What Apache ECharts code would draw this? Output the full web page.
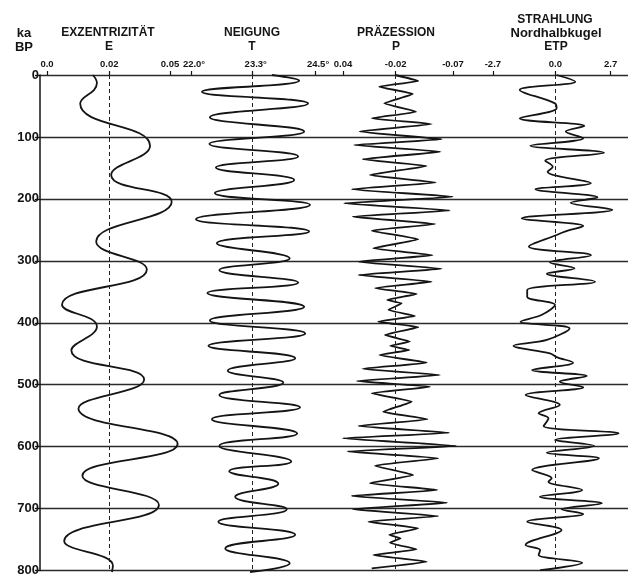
<!DOCTYPE html>
<html><head><meta charset="utf-8">
<script src="https://cdn.jsdelivr.net/npm/echarts@6/dist/echarts.min.js"></script>
<style>html,body{margin:0;padding:0;background:#fff}#c{width:628px;height:577px}</style>
</head><body><div id="c"></div>
<script>
// ---- age axis (ka BP) ----
const ageMin = 0, ageMax = 800, ageStep = 100;

// ---- Exzentrizität E ----
const eTickLabels = ['0.0', '0.02', '0.05'];
const eTickValues = [0.0, 0.0253, 0.05];
const eAge = [0, 13, 46, 114, 161, 204, 268, 313, 370, 405, 443, 490, 537, 594, 645, 692, 750, 790, 800];
const eVal = [0.0186, 0.0203, 0.0135, 0.0419, 0.0261, 0.0507, 0.0200, 0.0406, 0.0061, 0.0203, 0.0099, 0.0395, 0.0128, 0.0531, 0.0144, 0.0455, 0.0070, 0.0268, 0.0264];

// ---- Neigung T ----
const tTickLabels = ['22.0°', '23.3°', '24.5°'];
const tTickValues = [22.0, 23.244, 24.5];
const tAge = [0, 9, 27, 46, 68, 91, 111, 131, 149, 169, 190, 209, 232, 252, 271, 295, 314, 334, 351, 373, 395, 416, 436, 456, 476, 495, 515, 535, 554, 577, 597, 622, 638, 658, 679, 699, 719, 740, 762, 786, 800];
const tVal = [23.63, 24.18, 22.22, 24.36, 22.38, 24.28, 22.37, 24.16, 22.50, 24.08, 22.48, 24.40, 22.10, 24.38, 22.52, 23.99, 22.57, 24.16, 22.33, 24.28, 22.38, 24.30, 22.35, 24.10, 22.74, 23.86, 22.57, 24.20, 22.42, 24.14, 22.57, 24.02, 22.77, 23.76, 22.89, 23.93, 22.55, 24.10, 22.69, 23.99, 23.19];

// ---- Präzession P ----
const pTickLabels = ['0.04', '-0.02', '-0.07'];
const pTickValues = [0.04, -0.0127, -0.07];
const pAge = [0, 9.7, 18.8, 30.6, 45.6, 59, 69.8, 79, 91, 103.5, 112.7, 123.4, 135.7, 146.5, 161, 173, 184, 196, 206.5, 218, 228, 240, 250.6, 264.5, 279, 290, 300.5, 312, 322, 332.7, 343, 352.5, 362, 367.5, 378, 388, 397, 406, 418.5, 429, 436, 442.6, 450.7, 463, 473, 483, 492.5, 501.7, 512.4, 525.8, 542, 554, 565, 575.8, 584.8, 597, 606, 617, 629, 644, 657, 668, 677.7, 688.5, 699, 710, 719, 729.7, 740, 745.8, 752.8, 763.5, 772.6, 783.4, 794];
const pVal = [-0.012, -0.0353, 0.0037, -0.0297, -0.0013, -0.033, 0.0113, -0.0487, 0.0237, -0.0587, 0.029, -0.0577, 0.0203, -0.0437, 0.013, -0.053, 0.0313, -0.0697, 0.039, -0.067, 0.0303, -0.052, 0.0113, -0.0353, 0.0097, -0.0497, 0.0247, -0.0587, 0.0247, -0.0487, 0.008, -0.0337, -0.0043, -0.0187, -0.0053, -0.032, 0.0047, -0.0353, -0.002, -0.027, -0.007, -0.0263, 0.0037, -0.0437, 0.0207, -0.057, 0.0263, -0.047, 0.0113, -0.0287, -0.0003, -0.0443, 0.0247, -0.0663, 0.0403, -0.073, 0.0357, -0.0553, 0.008, -0.0303, 0.013, -0.0543, 0.0313, -0.0643, 0.0303, -0.0553, 0.0147, -0.0353, -0.0063, -0.0177, -0.007, -0.0337, 0.0097, -0.0437, 0.0113];

// ---- Strahlung Nordhalbkugel ETP ----
const xTickLabels = ['-2.7', '0.0', '2.7'];
const xTickValues = [-2.7, 0.1665, 2.7];
const xAge = [0, 10.7, 24, 45.6, 53.6, 69.8, 82, 91, 102, 114, 125, 138, 147.5, 155.6, 174, 184, 197, 205.5, 217, 230.7, 243, 252, 257.5, 276, 290, 302, 311, 320, 332.7, 346, 357, 370, 386, 397, 408, 426.5, 436, 448, 454, 463, 475, 484.5, 493.7, 502.7, 515, 531, 544.6, 552.6, 565, 576.8, 587.5, 597, 608, 617, 636, 649, 654.6, 668, 679, 689.5, 699, 706.6, 719, 732.4, 756.5, 764.6, 772.6, 785, 797];
const xVal = [0.225, 1.08, -1.47, 0.15, 0.225, -1.47, 1.50, 0.64, 1.45, -0.98, 2.40, -0.30, 0.045, -0.19, 1.80, -0.75, 2.10, 0.87, 2.78, -1.38, 1.45, 0.60, 0.225, -1.05, 1.80, -0.08, 1.05, -0.225, 1.99, -1.125, -1.125, 0.15, -0.45, -1.43, 0.82, -0.225, -1.755, -0.08, 0.225, 0.98, -0.90, 1.61, 0.37, 1.45, -1.20, 0.37, -0.60, -0.15, -0.37, 3.07, 0.15, 1.95, -0.225, 2.17, -0.90, 0.0, -0.15, 1.395, -0.55, 2.30, 0.45, 1.45, -1.125, 0.45, -1.20, -0.53, -0.60, 1.395, -0.53];

// ---- build ----
const INK = '#141414';
const FONT = '"Liberation Sans", Arial, sans-serif';
const zip = (ages, vals) => ages.map((a, i) => [vals[i], a]);

const panels = [
  { left: 39.6, width: 147.6, min: -0.003, max: 0.057, inverse: false, ticks: eTickValues, labels: eTickLabels, data: zip(eAge, eVal), smooth: 0.5, pad: 0 },
  { left: 181.1, width: 153.8, min: 21.8, max: 24.9, inverse: false, ticks: tTickValues, labels: tTickLabels, data: zip(tAge, tVal), smooth: 0.5, pad: 6 },
  { left: 333, width: 140, min: -0.09, max: 0.05, inverse: true, ticks: pTickValues, labels: pTickLabels, data: zip(pAge, pVal), smooth: 0.12, pad: 0 },
  { left: 486.33, width: 144.44, min: -3.0, max: 3.5, inverse: false, ticks: xTickValues, labels: xTickLabels, data: zip(xAge, xVal), smooth: 0.35, pad: 0 }
];

const TOP = 75, BOTTOM = 5;
const grid = [{ left: 40, right: 0, top: TOP, bottom: BOTTOM }];
const xAxis = [{ gridIndex: 0, type: 'value', min: 0, max: 1, show: false }];
const yAxis = [{
  gridIndex: 0, type: 'value', min: ageMin, max: ageMax, interval: ageStep, inverse: true,
  axisLine: { show: true, lineStyle: { color: INK, width: 1.5 } },
  axisTick: { show: true, length: 5, lineStyle: { color: INK, width: 1.3 } },
  axisLabel: { show: true, margin: 1, fontSize: 13, fontWeight: 'bold', color: INK, fontFamily: FONT },
  splitLine: { show: true, lineStyle: { color: '#2a2a2a', width: 1.4 } }
}];
const series = [];

panels.forEach((p, i) => {
  const gi = i + 1;
  grid.push({ left: p.left, width: p.width, top: TOP, bottom: BOTTOM });
  xAxis.push({
    gridIndex: gi, type: 'value', position: 'top', min: p.min, max: p.max, inverse: p.inverse,
    axisLine: { show: false },
    splitLine: { show: false },
    axisTick: { show: true, length: 4, customValues: p.ticks, lineStyle: { color: INK, width: 1.2 } },
    axisLabel: {
      show: true, margin: 6, fontSize: 9.5, fontWeight: 'bold', color: INK, fontFamily: FONT,
      customValues: p.ticks, padding: [0, 0, 0, p.pad],
      formatter: (v) => { const k = p.ticks.findIndex(t => Math.abs(t - v) < 1e-9); return k >= 0 ? p.labels[k] : ''; }
    }
  });
  yAxis.push({ gridIndex: gi, type: 'value', min: ageMin, max: ageMax, inverse: true, show: false });
  series.push({
    type: 'line', xAxisIndex: gi, yAxisIndex: gi, data: p.data, smooth: p.smooth,
    symbol: 'none', clip: false, animation: false,
    lineStyle: { color: INK, width: 1.8 },
    markLine: {
      silent: true, symbol: 'none', animation: false, precision: 6, label: { show: false },
      lineStyle: { type: [4, 3], color: '#222', width: 1 },
      data: [{ xAxis: p.ticks[1] }]
    }
  });
});

const txt = (s, x, y, size) => ({
  type: 'text', x: x, y: y,
  style: { text: s, font: 'bold ' + size + 'px ' + FONT, fill: INK, textAlign: 'center', textVerticalAlign: 'middle', align: 'center', verticalAlign: 'middle' }
});

const graphic = [
  txt('ka', 24, 33, 13), txt('BP', 24, 47, 13),
  txt('EXZENTRIZITÄT', 108, 33, 12), txt('E', 109, 47, 12),
  txt('NEIGUNG', 252, 33, 12), txt('T', 252, 47, 12),
  txt('PRÄZESSION', 396, 33, 12), txt('P', 396, 47, 12),
  txt('STRAHLUNG', 555, 20, 12), txt('Nordhalbkugel', 556, 33, 13), txt('ETP', 556, 47, 12)
];

const chart = echarts.init(document.getElementById('c'), null, { renderer: 'canvas' });
chart.setOption({ animation: false, backgroundColor: '#fff', grid, xAxis, yAxis, series, graphic });
</script></body></html>
